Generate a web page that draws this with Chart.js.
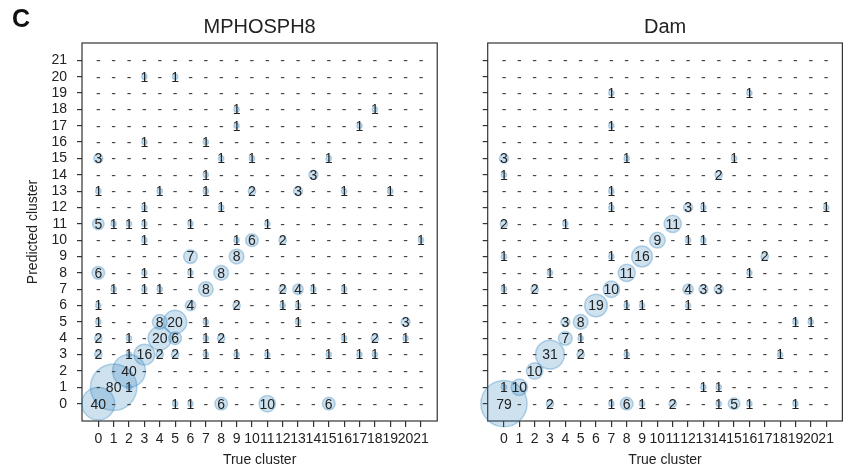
<!DOCTYPE html>
<html>
<head>
<meta charset="utf-8">
<script src="https://cdn.jsdelivr.net/npm/chart.js@4.4.1/dist/chart.umd.min.js"></script>
<style>
  body { margin: 0; background: #fff; }
  #wrap { position: relative; width: 867px; height: 472px; overflow: hidden; }
  #chart-left { position: absolute; left: 0; top: 0; }
  #chart-right { position: absolute; left: 462px; top: 0; }
  #letter {
    position: absolute; left: 12px; top: 6px;
    font: bold 25px "Liberation Sans", Arial, sans-serif; line-height: 25px; color: #111;
  }
</style>
</head>
<body>
<div id="wrap">
  <canvas id="chart-left" width="462" height="472"></canvas>
  <canvas id="chart-right" width="405" height="472"></canvas>
  <div id="letter">C</div>
</div>
<script>
// clusters on both axes
const clusters = [0, 1, 2, 3, 4, 5, 6, 7, 8, 9, 10, 11, 12, 13, 14, 15, 16, 17, 18, 19, 20, 21];
const clusterLabels = ["0", "1", "2", "3", "4", "5", "6", "7", "8", "9", "10",
  "11", "12", "13", "14", "15", "16", "17", "18", "19", "20", "21"];

// [true cluster, predicted cluster, count] - every cell not listed is 0
const mphosph8Cells = [
  [3, 20, 1], [5, 20, 1],
  [9, 18, 1], [18, 18, 1],
  [9, 17, 1], [17, 17, 1],
  [3, 16, 1], [7, 16, 1],
  [0, 15, 3], [8, 15, 1], [10, 15, 1], [15, 15, 1],
  [7, 14, 1], [14, 14, 3],
  [0, 13, 1], [4, 13, 1], [7, 13, 1], [10, 13, 2], [13, 13, 3], [16, 13, 1], [19, 13, 1],
  [3, 12, 1], [8, 12, 1],
  [0, 11, 5], [1, 11, 1], [2, 11, 1], [3, 11, 1], [6, 11, 1], [11, 11, 1],
  [3, 10, 1], [9, 10, 1], [10, 10, 6], [12, 10, 2], [21, 10, 1],
  [6, 9, 7], [9, 9, 8],
  [0, 8, 6], [3, 8, 1], [6, 8, 1], [8, 8, 8],
  [1, 7, 1], [3, 7, 1], [4, 7, 1], [7, 7, 8], [12, 7, 2], [13, 7, 4], [14, 7, 1], [16, 7, 1],
  [0, 6, 1], [6, 6, 4], [9, 6, 2], [12, 6, 1], [13, 6, 1],
  [0, 5, 1], [4, 5, 8], [5, 5, 20], [7, 5, 1], [13, 5, 1], [20, 5, 3],
  [0, 4, 2], [2, 4, 1], [4, 4, 20], [5, 4, 6], [7, 4, 1], [8, 4, 2], [16, 4, 1], [18, 4, 2], [20, 4, 1],
  [0, 3, 2], [2, 3, 1], [3, 3, 16], [4, 3, 2], [5, 3, 2], [7, 3, 1], [9, 3, 1], [11, 3, 1],
  [15, 3, 1], [17, 3, 1], [18, 3, 1],
  [2, 2, 40],
  [1, 1, 80], [2, 1, 1],
  [0, 0, 40], [5, 0, 1], [6, 0, 1], [8, 0, 6], [11, 0, 10], [15, 0, 6],
];

const damCells = [
  [7, 19, 1], [16, 19, 1],
  [7, 17, 1],
  [0, 15, 3], [8, 15, 1], [15, 15, 1],
  [0, 14, 1], [14, 14, 2],
  [7, 13, 1],
  [7, 12, 1], [12, 12, 3], [13, 12, 1], [21, 12, 1],
  [0, 11, 2], [4, 11, 1], [11, 11, 11],
  [10, 10, 9], [12, 10, 1], [13, 10, 1],
  [0, 9, 1], [7, 9, 1], [9, 9, 16], [17, 9, 2],
  [3, 8, 1], [8, 8, 11], [16, 8, 1],
  [0, 7, 1], [2, 7, 2], [7, 7, 10], [12, 7, 4], [13, 7, 3], [14, 7, 3],
  [6, 6, 19], [8, 6, 1], [9, 6, 1], [12, 6, 1],
  [4, 5, 3], [5, 5, 8], [19, 5, 1], [20, 5, 1],
  [4, 4, 7], [5, 4, 1],
  [3, 3, 31], [5, 3, 2], [8, 3, 1], [18, 3, 1],
  [2, 2, 10],
  [0, 1, 1], [1, 1, 10], [13, 1, 1], [14, 1, 1],
  [0, 0, 79], [3, 0, 2], [7, 0, 1], [8, 0, 6], [9, 0, 1], [11, 0, 2], [14, 0, 1],
  [15, 0, 5], [16, 0, 1], [19, 0, 1],
];

const FONT = '"Liberation Sans", Arial, sans-serif';
const INK = "#222";
const BUBBLE_SCALE = 2.6; // radius in px per sqrt(count)

Chart.defaults.font.family = FONT;
Chart.defaults.color = INK;

// full box around the plot area
const frame = {
  id: "frame",
  beforeDatasetsDraw(chart) {
    const { ctx, chartArea: a } = chart;
    ctx.save();
    ctx.strokeStyle = "#333";
    ctx.lineWidth = 1.2;
    ctx.strokeRect(a.left, a.top, a.right - a.left, a.bottom - a.top);
    ctx.restore();
  },
};

// count (or a dash for zero) written in every cell
const cellText = {
  id: "cellText",
  afterDatasetsDraw(chart, args, opts) {
    const { ctx } = chart;
    const x = chart.scales.x;
    const y = chart.scales.y;
    const lookup = new Map(opts.cells.map(([tx, py, n]) => [tx + "," + py, n]));
    ctx.save();
    ctx.textAlign = "center";
    ctx.textBaseline = "middle";
    ctx.font = "14px " + FONT;
    for (const py of clusters) {
      for (const tx of clusters) {
        const n = lookup.get(tx + "," + py);
        ctx.fillStyle = n ? INK : "#444";
        ctx.fillText(n ? String(n) : "-", x.getPixelForValue(tx), y.getPixelForValue(py) + 1);
      }
    }
    ctx.restore();
  },
};

function setClusterTicks(scale) {
  scale.ticks = clusters.map((v) => ({ value: v }));
}

function makePanel(canvasId, title, cells, opts) {
  return new Chart(document.getElementById(canvasId), {
    type: "bubble",
    data: {
      datasets: [
        {
          data: cells.map(([tx, py, n]) => ({ x: tx, y: py, r: BUBBLE_SCALE * Math.sqrt(n) })),
          backgroundColor: "rgba(31,119,180,0.22)",
          borderColor: "rgba(31,119,180,0.3)",
          borderWidth: 1.5,
          clip: false,
        },
      ],
    },
    options: {
      responsive: false,
      animation: false,
      events: [],
      layout: { padding: { left: 0, right: opts.padRight, top: 0, bottom: 0 } },
      plugins: {
        legend: { display: false },
        tooltip: { enabled: false },
        title: {
          display: true,
          text: title,
          fullSize: false,
          color: INK,
          font: { size: 20, weight: "normal", lineHeight: 1.2 },
          padding: { top: 15, bottom: 4 },
        },
        cellText: { cells: cells },
      },
      scales: {
        x: {
          type: "linear",
          min: -1.06,
          max: 22.06,
          afterBuildTicks: setClusterTicks,
          afterFit: (s) => { s.height = 51; },
          grid: { drawOnChartArea: false, drawTicks: true, tickLength: 6, color: "#333", lineWidth: 1.2 },
          border: { display: false },
          ticks: {
            padding: 4,
            color: INK,
            font: { size: 14 },
            maxRotation: 0,
            autoSkip: false,
            callback: (v, i) => clusterLabels[i],
          },
          title: {
            display: true,
            text: "True cluster",
            color: INK,
            font: { size: 14 },
            padding: { top: 0, bottom: 3.6 },
          },
        },
        y: {
          type: "linear",
          min: -1.06,
          max: 22.06,
          afterBuildTicks: setClusterTicks,
          afterFit: (s) => { s.width = opts.yWidth; },
          grid: { drawOnChartArea: false, drawTicks: true, tickLength: 5, color: "#333", lineWidth: 1.2 },
          border: { display: false },
          ticks: {
            display: opts.yLabels,
            padding: 10,
            color: INK,
            font: { size: 14 },
            autoSkip: false,
            callback: (v, i) => clusterLabels[i],
          },
          title: {
            display: opts.yLabels,
            text: "Predicted cluster",
            color: INK,
            font: { size: 14 },
            padding: { top: 24.6, bottom: 0 },
          },
        },
      },
    },
    plugins: [frame, cellText],
  });
}

makePanel("chart-left", "MPHOSPH8", mphosph8Cells, { yWidth: 82, padRight: 3, yLabels: true });
makePanel("chart-right", "Dam", damCells, { yWidth: 25.7, padRight: 1, yLabels: false });
</script>
</body>
</html>
